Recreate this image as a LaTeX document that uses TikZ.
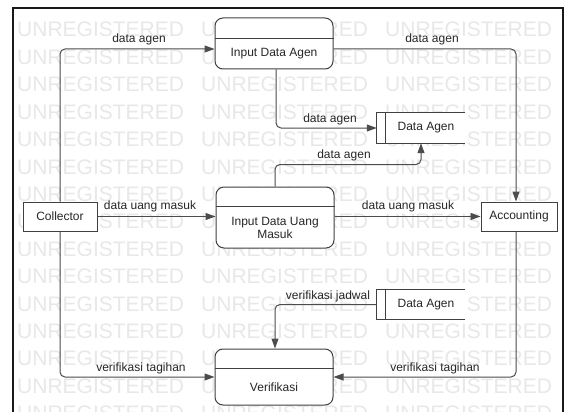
\documentclass[tikz,border=0pt]{standalone}
\usepackage{fontspec}
\setmainfont{Liberation Sans}
\usetikzlibrary{arrows.meta,calc}
\begin{document}
\begin{tikzpicture}[x=1pt,y=-1pt,
  txt/.style={font=\fontsize{12}{14}\selectfont, text=black!85, inner sep=0pt},
  wm/.style={font=\fontsize{21}{21}\selectfont, text=black!9, inner sep=0pt, anchor=base west},
  proc/.style={draw=black!75, fill=white, line width=1pt, rounded corners=8pt, minimum width=118pt, inner sep=0pt},
  ent/.style={draw=black!75, fill=white, line width=1pt, inner sep=0pt, minimum height=29pt, txt},
  storebox/.style={minimum width=88pt, inner sep=0pt},
  storeline/.style={draw=black!75, line width=1pt},
  divline/.style={draw=black!75, line width=1pt},
  flow/.style={draw=black!70, line width=1pt, rounded corners=5pt, -{Triangle[length=10pt,width=7pt]}},
  lbl/.style={txt}
]
\useasboundingbox (0,0) rectangle (565,412);
\fill[white] (0,0) rectangle (565,412);
% watermark
\foreach \r in {0,...,14}{\foreach \c in {0,1,2}{
  \node[wm] (wm-\r-\c) at ({17+\c*184},{37+\r*27.4}) {UNREGISTERED};}}
% frame
\draw[black!90, line width=2pt] (13,414) -- (13,8) -- (563,8) -- (563,414);

% processes
\node[proc, minimum height=51pt] (pA) at (274,43.5) {};
\draw[divline] ($(pA.north west)+(0,21)$) -- ($(pA.north east)+(0,21)$);
\node[txt] (pAt) at (274,54) {Input Data Agen};

\node[proc, minimum height=61pt] (pU) at (275,217.5) {};
\draw[divline] ($(pU.north west)+(0,20)$) -- ($(pU.north east)+(0,20)$);
\node[txt, font=\fontsize{12}{11}\selectfont, align=center] (pUt) at (275,228) {Input Data Uang\\Masuk};

\node[proc, minimum height=56pt] (pV) at (274,377) {};
\draw[divline] ($(pV.north west)+(0,20)$) -- ($(pV.north east)+(0,20)$);
\node[txt] (pVt) at (274,387) {Verifikasi};

% entities
\node[ent, minimum width=74pt] (coll) at (60,216.5) {Collector};
\node[ent, minimum width=76pt] (acc) at (519,216.5) {Accounting};

% data stores
\node[storebox, minimum height=30pt] (sA) at (421,128) {};
\fill[white] (sA.north west) rectangle (sA.south east);
\draw[storeline] (sA.north east) -- (sA.north west) -- (sA.south west) -- (sA.south east);
\draw[storeline] ($(sA.north west)+(9,0)$) -- ($(sA.south west)+(9,0)$);
\node[txt] (sAt) at (426,128) {Data Agen};

\node[storebox, minimum height=29pt] (sB) at (421,304.5) {};
\fill[white] (sB.north west) rectangle (sB.south east);
\draw[storeline] (sB.north east) -- (sB.north west) -- (sB.south west) -- (sB.south east);
\draw[storeline] ($(sB.north west)+(9,0)$) -- ($(sB.south west)+(9,0)$);
\node[txt] (sBt) at (426,304.5) {Data Agen};

% flows
\draw[flow] (coll.north) |- ([yshift=-5.5pt]pA.west);
\draw[flow] ([yshift=-5.5pt]pA.east) -| ([xshift=-3pt]acc.north);
\draw[flow] ([xshift=2pt]pA.south) |- (sA.west);
\draw[flow] (pU.north) -- ++(0,-22) -| (sA.south);
\draw[flow] (coll.east) -- (coll.east -| pU.west);
\draw[flow] (coll.east -| pU.east) -- (acc.west);
\draw[flow] (sB.west) -| ([xshift=1pt]pV.north);
\draw[flow] (coll.south) |- (pV.west);
\draw[flow] ([xshift=-3pt]acc.south) |- (pV.east);

% labels
\node[lbl] (l1) at (139,39) {data agen};
\node[lbl] (l2) at (432,39) {data agen};
\node[lbl] (l3) at (330,119) {data agen};
\node[lbl] (l4) at (344,155) {data agen};
\node[lbl] (l5) at (150,206) {data uang masuk};
\node[lbl] (l6) at (408,206) {data uang masuk};
\node[lbl] (l7) at (328,296) {verifikasi jadwal};
\node[lbl] (l8) at (141,368) {verifikasi tagihan};
\node[lbl] (l9) at (435,368) {verifikasi tagihan};
\end{tikzpicture}
\end{document}
